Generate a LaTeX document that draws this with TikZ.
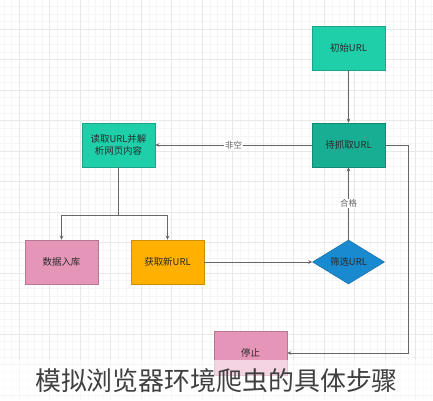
\documentclass[tikz,border=0pt]{standalone}
\usepackage{fontspec}
\setmainfont{Noto Sans CJK SC}
\usetikzlibrary{shapes.geometric,arrows.meta}
\definecolor{tealA}{HTML}{1FCFAA}
\definecolor{tealB}{HTML}{17AE94}
\definecolor{pinkA}{HTML}{E495B8}
\definecolor{orangeA}{HTML}{FFB000}
\definecolor{blueA}{HTML}{1A8AD0}
\definecolor{lineC}{HTML}{666666}
\definecolor{txtC}{HTML}{2A2A2A}
\begin{document}
\begin{tikzpicture}[x=1bp,y=-1bp,
  box/.style={draw=#1!80!black, line width=0.5bp, fill=#1, minimum width=73bp, minimum height=44bp, inner sep=1bp, text=txtC, font=\fontsize{9.5}{12}\selectfont, align=center},
  conn/.style={draw=lineC, line width=0.6bp, -{Stealth[length=4bp,width=3.5bp]}},
  lbl/.style={fill=white, text=lineC, font=\fontsize{8.5}{10}\selectfont, inner sep=1bp}]
\useasboundingbox (0,0) rectangle (433,400);
\fill[white] (0,0) rectangle (433,400);
% grid
\foreach \i in {0,...,60} {
  \draw[black!4, line width=0.3bp] ({-3.8+\i*7.625},0) -- ({-3.8+\i*7.625},400);
  \draw[black!4, line width=0.3bp] (0,{-1.5+\i*7.625}) -- (433,{-1.5+\i*7.625});
}
\foreach \i in {0,...,14} {
  \draw[black!9, line width=0.5bp] ({19+\i*30.5},0) -- ({19+\i*30.5},400);
  \draw[black!9, line width=0.5bp] (0,{29+\i*30.5}) -- (433,{29+\i*30.5});
}
% nodes
\node[box=tealA] (init) at (348.5,48) {初始URL};
\node[box=tealB] (queue) at (348.5,145) {待抓取URL};
\node[box=tealA] (parse) at (118.5,145) {读取URL并解\\析网页内容};
\node[box=pinkA] (store) at (61.5,262) {数据入库};
\node[box=orangeA] (newurl) at (167.5,262) {获取新URL};
\node[diamond, aspect=1.64, draw=blueA!80!black, line width=0.5bp, fill=blueA, minimum width=72bp, minimum height=44bp, inner sep=0pt, text=txtC, font=\fontsize{9.5}{12}\selectfont] (filter) at (348.5,262) {筛选URL};
\node[box=pinkA] (stop) at (250.5,353) {停止};
\coordinate (split) at (118.5,215);
\coordinate (corner1) at (408,145);
\coordinate (corner2) at (408,353);
% connectors
\draw[conn] (init) -- (queue);
\draw[conn] (queue) -- node[lbl]{非空} (parse);
\draw[draw=lineC, line width=0.6bp] (parse) -- (split);
\draw[conn] (split) -| (store);
\draw[conn] (split) -| (newurl);
\draw[conn] (newurl) -- (filter);
\draw[conn] (filter) -- node[lbl]{合格} (queue);
\draw[conn] (queue.east) -- (corner1) -- (corner2) -- (stop.east);
% title band
\fill[white, opacity=0.6] (0,360) rectangle (433,400);
\node[text=black!75, font=\fontsize{26}{30}\selectfont, inner sep=0pt] (title) at (216.5,381) {模拟浏览器环境爬虫的具体步骤};
\end{tikzpicture}
\end{document}
